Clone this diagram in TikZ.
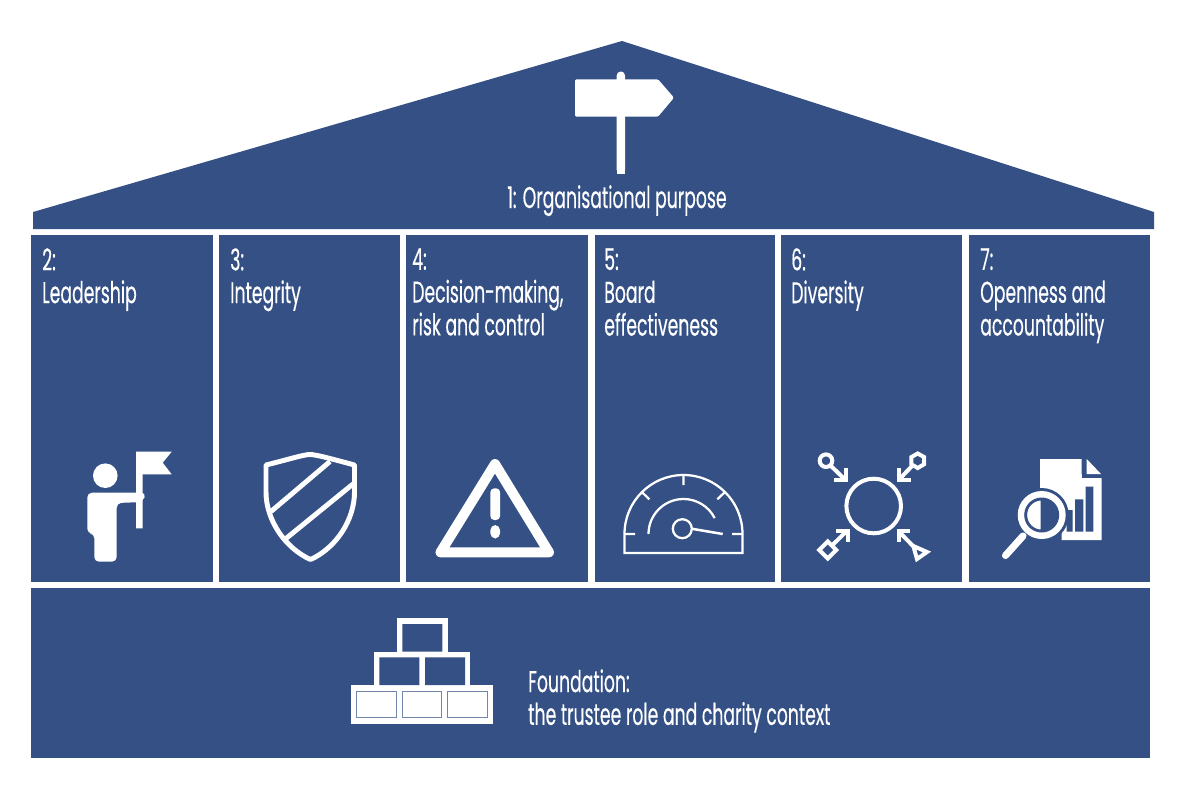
\documentclass[tikz,border=0pt]{standalone}
\usepackage{fontspec}
\setmainfont[FakeStretch=0.575,FakeBold=0.35]{Poppins}
\definecolor{navy}{HTML}{345085}
\tikzset{
  x=0.75pt,y=-0.75pt,
  panel/.style={fill=navy,draw=none},
  lbl/.style={text=white,font=\fontsize{22.5pt}{24.6pt}\selectfont,inner sep=0pt,align=left,anchor=north west},
  wl/.style={draw=white,line width=#1},
  wl/.default=1.7pt,
  wf/.style={fill=white,draw=none},
  bf/.style={fill=navy,draw=none}
}
\begin{document}
\begin{tikzpicture}
\useasboundingbox (0,0) rectangle (1186,786);
\fill[white] (0,0) rectangle (1186,786);
% house
\path[panel] (33,229) -- (33,212) -- (622,41) -- (1154,212) -- (1154,229) -- cycle;
\node[panel,minimum width=0.75pt*182,minimum height=0.75pt*347,anchor=north west,inner sep=0] (p2) at (31,235) {};
\node[panel,minimum width=0.75pt*181,minimum height=0.75pt*347,anchor=north west,inner sep=0] (p3) at (219,235) {};
\node[panel,minimum width=0.75pt*182,minimum height=0.75pt*347,anchor=north west,inner sep=0] (p4) at (406,235) {};
\node[panel,minimum width=0.75pt*180,minimum height=0.75pt*347,anchor=north west,inner sep=0] (p5) at (595,235) {};
\node[panel,minimum width=0.75pt*181,minimum height=0.75pt*347,anchor=north west,inner sep=0] (p6) at (781,235) {};
\node[panel,minimum width=0.75pt*181,minimum height=0.75pt*347,anchor=north west,inner sep=0] (p7) at (969,235) {};
\node[panel,minimum width=0.75pt*1119,minimum height=0.75pt*170,anchor=north west,inner sep=0] (base) at (31,588) {};
% labels
\node[lbl,anchor=base] (t1) at (617,208) {1: Organisational purpose};
\node[lbl] (t2) at (42,248) {2:\\Leadership};
\node[lbl] (t3) at (230,248) {3:\\Integrity};
\node[lbl] (t4) at (412,248) {4:\\Decision-making,\\risk and control};
\node[lbl] (t5) at (604,248) {5:\\Board\\effectiveness};
\node[lbl] (t6) at (791,248) {6:\\Diversity};
\node[lbl] (t7) at (980,248) {7:\\Openness and\\accountability};
\node[lbl] (t8) at (528,669) {Foundation:\\the trustee role and charity context};
% signpost
\fill[white,rounded corners=1pt] (575,79.3) -- (658,79.3) -- (674,97.7) -- (658,116.7) -- (575,116.7) -- cycle;
\fill[white,rounded corners=3pt] (616.7,174) -- (616.7,71.5) -- (625,71.5) -- (625,174) -- cycle;
\fill[white] (616.7,170) rectangle (625,174);
% leader
\fill[white] (105.3,475.7) circle[radius=12.3*0.75pt];
\fill[white,rounded corners=3.5pt] (87.3,533.5) -- (87.3,492.7) -- (146,492.7) -- (143,502) -- (116.7,503) -- (116.7,561.7) -- (94.3,561.7) -- (94.3,533.5) -- cycle;
\fill[white] (136,451.7) -- (171.7,451.7) -- (162.7,462.7) -- (171.7,474.3) -- (142.7,474.3) -- (142.7,528.3) -- (136,528.3) -- cycle;
% shield
\draw[white,line width=3.7pt,line join=round] (310,454.5) .. controls (304,454.5) and (290,459) .. (266,465) -- (266,492) .. controls (266,520) and (285,548) .. (310.5,559.5) .. controls (336,548) and (354.5,520) .. (354.5,492) -- (354.5,465) .. controls (332,459) and (316,454.5) .. (310,454.5) -- cycle;
\draw[white,line width=3.7pt] (271,511.5) -- (330,461.5);
\draw[white,line width=3.7pt] (286,538.5) -- (353,484);
% warning
\draw[white,line width=7.5pt,line join=round] (440.5,552.3) -- (549,552.3) -- (495,464) -- cycle;
\fill[white,rounded corners=3pt] (490.3,488.3) rectangle (500.1,520);
\fill[white,rounded corners=4pt] (490.3,525) rectangle (500.1,538.5);
% gauge
\draw[wl] (624.5,534) arc[start angle=180,end angle=0,radius=59*0.75pt] -- (742.5,553) -- (624.5,553) -- cycle;
\draw[wl] (683.5,474.5) -- (683.5,485) (624.5,534) -- (635,534) (742.5,534) -- (732,534) (641.5,491.7) -- (649.3,499.3) (725.3,491.7) -- (717.3,499.3);
\draw[wl] (648.5,534) arc[start angle=180,end angle=27,radius=35*0.75pt];
\draw[wl] (682.3,528.7) circle[radius=9.5*0.75pt];
\draw[white,line width=1.9pt] (692,528.8) -- (722.7,534);
% diversity
\draw[white,line width=3pt] (873.7,506) circle[radius=27.3*0.75pt];
\draw[white,line width=3pt] (826,460.7) circle[radius=6.3*0.75pt] (831,466) -- (845,479.5);
\draw[white,line width=3pt,line join=miter] (846,468.3) -- (846,480) -- (834,480);
\draw[white,line width=3pt] (917.7,453.5) -- (924,457) -- (924,464.3) -- (917.7,468) -- (911.4,464.3) -- (911.4,457) -- cycle (912.5,465.5) -- (899.3,479.3);
\draw[white,line width=3pt] (899.3,468.3) -- (899.3,480) -- (910.7,480);
\draw[white,line width=3pt] (827.7,541.5) -- (836.2,550) -- (827.7,558.5) -- (819.2,550) -- cycle (832,545.5) -- (846.7,531);
\draw[white,line width=3pt] (836,530.7) -- (847.7,530.7) -- (847.7,541.7);
\draw[white,line width=3pt] (913.3,546) -- (927,552) -- (917,559) -- cycle (913.5,546.5) -- (899,531.7);
\draw[white,line width=3pt] (910,530.7) -- (898.7,530.7) -- (898.7,541.7);
% report
\fill[white] (1040,459) -- (1081.7,459) -- (1081.7,474.5) -- (1101.7,474.5) -- (1101.7,540) -- (1061.7,540) -- (1061.7,515) -- (1040,515) -- cycle;
\fill[navy] (1081.7,459) rectangle (1086.7,476);
\fill[navy] (1081.7,474.3) rectangle (1101.7,478);
\fill[white] (1086.7,459) -- (1101,474) -- (1086.7,474) -- cycle;
\fill[navy] (1066.7,510) rectangle (1072.7,531.7) (1075,499.3) rectangle (1083.3,531.7) (1085.7,486.7) rectangle (1093.3,531.7);
\fill[navy] (1041.7,515) circle[radius=27*0.75pt];
\fill[white] (1041.7,515) circle[radius=24*0.75pt];
\fill[navy] (1041.7,515) circle[radius=17.5*0.75pt];
\begin{scope}
\clip (1000,480) rectangle (1040.7,550);
\fill[white] (1041.7,515) circle[radius=14.5*0.75pt];
\end{scope}
\draw[white,line width=5.3pt,line cap=round] (1023,536) -- (1005.5,555.5);
% bricks
\fill[white] (351,685) rectangle (493.3,724);
\fill[white] (374,651.7) rectangle (470.3,685.5);
\fill[white] (396.7,618.3) rectangle (447.7,652);
\fill[navy] (402.3,624) rectangle (442.3,651.7) (379.3,657.3) rectangle (419.3,685) (425,657.3) rectangle (465,685);
\draw[navy!70,line width=0.6pt] (356.7,691) rectangle (396,717.7) (402.3,691) rectangle (441.7,717.7) (447.7,691) rectangle (487.3,717.7);
\end{tikzpicture}
\end{document}
